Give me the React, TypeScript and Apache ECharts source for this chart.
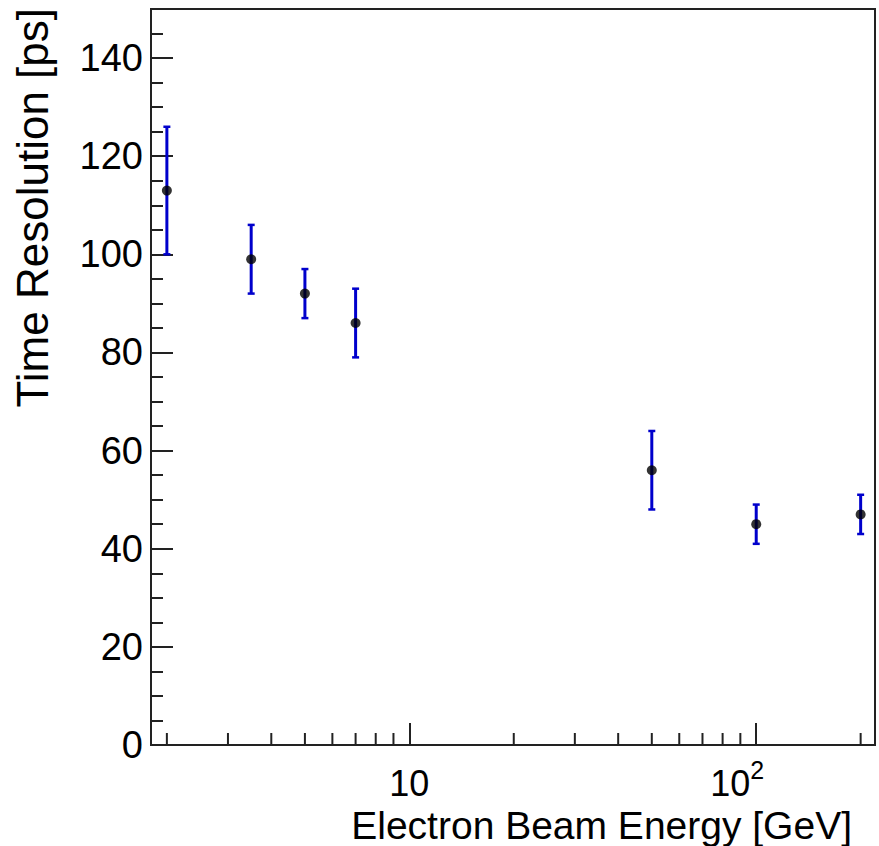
import React, { useEffect, useRef } from "react";
import * as echarts from "echarts";

const energy = [2, 3.5, 5, 7, 50, 100, 200];
const resolution = [113, 99, 92, 86, 56, 45, 47];
const resolutionErr = [13, 7, 5, 7, 8, 4, 4];
const xMinorTicks = [2, 3, 4, 5, 6, 7, 8, 9, 20, 30, 40, 50, 60, 70, 80, 90, 200];
const xTitle = "Electron Beam Energy [GeV]";
const yTitle = "Time Resolution [ps]";

const FONT = "'Liberation Sans', Arial, Helvetica, sans-serif";
const AXIS_COLOR = "#222";
const BLUE = "#0000cc";

export default function App() {
  const ref = useRef<HTMLDivElement>(null);
  useEffect(() => {
    document.body.style.margin = "0";
    const chart = echarts.init(ref.current!, null, { renderer: "svg" });
    const option: any = {
      animation: false,
      backgroundColor: "#fff",
      textStyle: { fontFamily: FONT },
      grid: {
        left: 151,
        top: 9,
        right: 4,
        bottom: 101,
        show: true,
        borderColor: AXIS_COLOR,
        borderWidth: 2,
        backgroundColor: "transparent",
      },
      xAxis: {
        type: "log",
        logBase: 10,
        min: 1.8,
        max: 220,
        axisLine: { show: true, onZero: false, lineStyle: { color: AXIS_COLOR, width: 2 } },
        axisTick: { show: true, inside: true, length: 22, lineStyle: { color: AXIS_COLOR, width: 2 } },
        splitLine: { show: false },
        minorTick: { show: false },
        axisLabel: {
          margin: 12,
          color: "#000",
          fontFamily: FONT,
          formatter: (v: number) => {
            if (Math.abs(v - 10) < 1e-6) return "{a|10}{q|}";
            if (Math.abs(v - 100) < 1e-6) return "{a|10}{s|2}{p|}";
            return "";
          },
          rich: {
            a: { fontSize: 36, fontFamily: FONT, color: "#000", verticalAlign: "bottom" },
            s: { fontSize: 25, lineHeight: 28, fontFamily: FONT, color: "#000", verticalAlign: "top" },
            p: { width: 38, height: 44 },
            q: { width: 0, height: 44 },
          },
        },
      },
      yAxis: [
        {
          type: "value",
          position: "left",
          min: 0,
          max: 150,
          interval: 20,
          axisLine: { show: true, onZero: false, lineStyle: { color: AXIS_COLOR, width: 2 } },
          axisTick: { show: true, inside: true, length: 22, lineStyle: { color: AXIS_COLOR, width: 2 } },
          splitLine: { show: false },
          axisLabel: {
            margin: 8,
            fontSize: 38,
            color: "#000",
            fontFamily: FONT,
            showMaxLabel: false,
            formatter: (v: number) => (v % 20 === 0 ? String(v) : ""),
          },
        },
        {
          type: "value",
          position: "left",
          offset: 0,
          min: 0,
          max: 150,
          interval: 5,
          axisLine: { show: false },
          axisTick: { show: true, inside: true, length: 12, lineStyle: { color: AXIS_COLOR, width: 2 } },
          splitLine: { show: false },
          axisLabel: { show: false },
        },
      ],
      graphic: [
        {
          type: "text",
          x: 852,
          y: 825.5,
          style: {
            text: xTitle,
            font: `39px ${FONT}`,
            lineHeight: 30,
            fill: "#000",
            align: "right",
            verticalAlign: "middle",
          },
        },
        {
          type: "text",
          x: 32,
          y: 8,
          rotation: Math.PI / 2,
          style: {
            text: yTitle,
            font: `44px ${FONT}`,
            fill: "#000",
            align: "right",
            verticalAlign: "middle",
          },
        },
      ],
      series: [
        {
          type: "custom",
          name: "minorTicks",
          silent: true,
          xAxisIndex: 0,
          yAxisIndex: 0,
          data: xMinorTicks.map((v) => [v, 0]),
          encode: { x: 0, y: 1 },
          renderItem: (params: any, api: any) => {
            const p = api.coord([api.value(0), 0]);
            return {
              type: "line",
              shape: { x1: p[0], y1: p[1], x2: p[0], y2: p[1] - 12 },
              style: { stroke: AXIS_COLOR, lineWidth: 2 },
            };
          },
          z: 3,
        },
        {
          type: "custom",
          name: "errors",
          silent: true,
          xAxisIndex: 0,
          yAxisIndex: 0,
          data: energy.map((x, i) => [x, resolution[i], resolutionErr[i]]),
          encode: { x: 0, y: 1 },
          renderItem: (params: any, api: any) => {
            const x = api.value(0);
            const y = api.value(1);
            const e = api.value(2);
            const t = api.coord([x, y + e]);
            const b = api.coord([x, y - e]);
            const hw = 3.5;
            return {
              type: "group",
              children: [
                { type: "line", shape: { x1: t[0], y1: t[1], x2: b[0], y2: b[1] }, style: { stroke: BLUE, lineWidth: 3 } },
                { type: "line", shape: { x1: t[0] - hw, y1: t[1], x2: t[0] + hw, y2: t[1] }, style: { stroke: BLUE, lineWidth: 2.5 } },
                { type: "line", shape: { x1: b[0] - hw, y1: b[1], x2: b[0] + hw, y2: b[1] }, style: { stroke: BLUE, lineWidth: 2.5 } },
              ],
            };
          },
          z: 4,
        },
        {
          type: "scatter",
          name: "Time resolution",
          xAxisIndex: 0,
          yAxisIndex: 0,
          data: energy.map((x, i) => [x, resolution[i]]),
          symbol: "circle",
          symbolSize: 10,
          itemStyle: { color: "#000" },
          z: 5,
        },
      ],
    };
    chart.setOption(option);
    return () => chart.dispose();
  }, []);
  return <div ref={ref} style={{ width: 879, height: 846, overflow: "hidden" }} />;
}
